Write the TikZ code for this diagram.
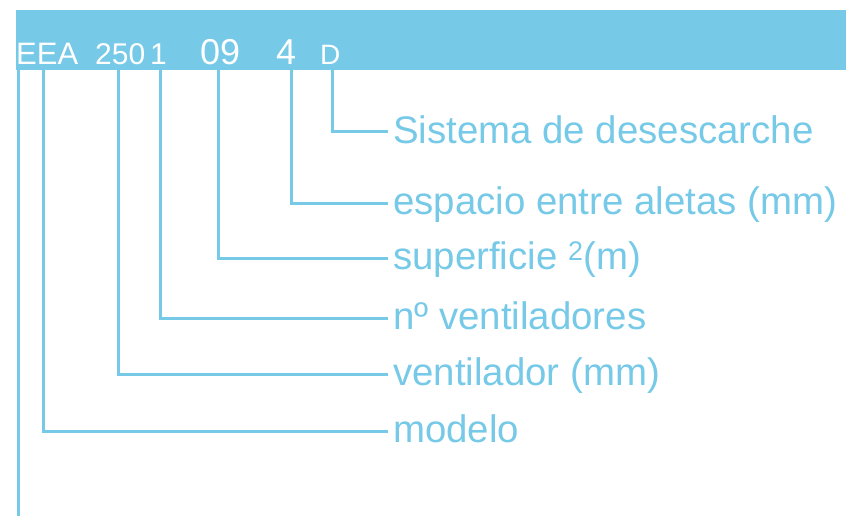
\documentclass[tikz,border=0pt]{standalone}
\usepackage{fontspec}
\setmainfont{Liberation Sans}
\usetikzlibrary{positioning}

\definecolor{skyblue}{RGB}{118,201,231}

\tikzset{
  band/.style={fill=skyblue, inner sep=0pt, minimum width=830pt, minimum height=60pt, anchor=north west},
  code/.style={text=white, inner sep=0pt, anchor=base west},
  lbl/.style={text=skyblue, inner sep=0pt, anchor=west, text height=23pt, text depth=0pt,
              font=\fontsize{38.4}{40}\selectfont},
  conn/.style={draw=skyblue, line width=3pt}
}

\begin{document}
\begin{tikzpicture}[x=1pt,y=-1pt]
  \useasboundingbox (0,0) rectangle (846,516);

  % code band
  \node[band] (band) at (16,10) {};
  \node[code, font=\fontsize{31}{31}\selectfont] (cEEA) at (16,65) {EEA};
  \node[code, font=\fontsize{30}{30}\selectfont] (c250) at (95,65) {250};
  \node[code, font=\fontsize{30}{30}\selectfont] (c1) at (150,65) {1};
  \node[code, font=\fontsize{36}{36}\selectfont] (c09) at (200,65) {09};
  \node[code, font=\fontsize{36}{36}\selectfont] (c4) at (276,65) {4};
  \node[code, font=\fontsize{28}{28}\selectfont] (cD) at (320,65) {D};

  % drop points under the band
  \coordinate (tA) at (18,70);
  \coordinate (tB) at (43,70);
  \coordinate (t250) at (118,70);
  \coordinate (t1) at (160,70);
  \coordinate (t09) at (218,70);
  \coordinate (t4) at (291,70);
  \coordinate (tD) at (332,70);
  \coordinate (bottom) at (18,516);

  % labels
  \node[lbl] (lD) at (393,132) {Sistema de desescarche};
  \node[lbl] (l4) at (393,203) {espacio entre aletas (mm)};
  \node[lbl] (l09) at (393,258) {superficie \textsuperscript{2}(m)};
  \node[lbl] (l1) at (393,318) {nº ventiladores};
  \node[lbl] (l250) at (393,374) {ventilador (mm)};
  \node[lbl] (lEEA) at (393,431) {modelo};

  % connectors
  \draw[conn] (tD) |- ([xshift=-5pt]lD.west);
  \draw[conn] (t4) |- ([xshift=-5pt]l4.west);
  \draw[conn] (t09) |- ([xshift=-5pt]l09.west);
  \draw[conn] (t1) |- ([xshift=-5pt]l1.west);
  \draw[conn] (t250) |- ([xshift=-5pt]l250.west);
  \draw[conn] (tB) |- ([xshift=-5pt]lEEA.west);
  \draw[conn] (tA) -- (bottom);
\end{tikzpicture}
\end{document}
